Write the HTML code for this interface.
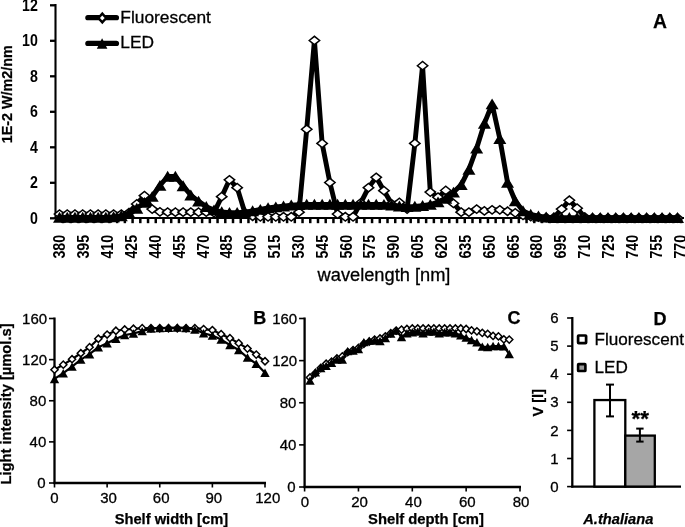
<!DOCTYPE html>
<html lang="en">
<head>
<meta charset="utf-8">
<title>Light spectra and intensity: Fluorescent vs LED</title>
<style>
html,body{margin:0;padding:0;background:#fff;}
body{width:685px;height:527px;overflow:hidden;}
svg{display:block;will-change:transform;font-family:"Liberation Sans", sans-serif;fill:#000;}
</style>
</head>
<body>
<svg width="685" height="527" viewBox="0 0 685 527">
<rect x="0" y="0" width="685" height="527" fill="#fff"/>
<line x1="55.5" y1="4.0" x2="55.5" y2="219.0" stroke="#000" stroke-width="2.1" stroke-linecap="butt"/>
<line x1="54.5" y1="218.0" x2="684" y2="218.0" stroke="#000" stroke-width="1.8" stroke-linecap="butt"/>
<line x1="50.0" y1="218.3" x2="55.5" y2="218.3" stroke="#000" stroke-width="2.3" stroke-linecap="butt"/>
<text transform="translate(37.90 223.70) scale(1 1.1)" x="0" y="0" font-size="14.2" font-weight="bold" text-anchor="end">0</text>
<line x1="50.0" y1="182.8" x2="55.5" y2="182.8" stroke="#000" stroke-width="2.3" stroke-linecap="butt"/>
<text transform="translate(37.90 188.20) scale(1 1.1)" x="0" y="0" font-size="14.2" font-weight="bold" text-anchor="end">2</text>
<line x1="50.0" y1="147.3" x2="55.5" y2="147.3" stroke="#000" stroke-width="2.3" stroke-linecap="butt"/>
<text transform="translate(37.90 152.70) scale(1 1.1)" x="0" y="0" font-size="14.2" font-weight="bold" text-anchor="end">4</text>
<line x1="50.0" y1="111.8" x2="55.5" y2="111.8" stroke="#000" stroke-width="2.3" stroke-linecap="butt"/>
<text transform="translate(37.90 117.20) scale(1 1.1)" x="0" y="0" font-size="14.2" font-weight="bold" text-anchor="end">6</text>
<line x1="50.0" y1="76.3" x2="55.5" y2="76.3" stroke="#000" stroke-width="2.3" stroke-linecap="butt"/>
<text transform="translate(37.90 81.70) scale(1 1.1)" x="0" y="0" font-size="14.2" font-weight="bold" text-anchor="end">8</text>
<line x1="50.0" y1="40.8" x2="55.5" y2="40.8" stroke="#000" stroke-width="2.3" stroke-linecap="butt"/>
<text transform="translate(37.90 46.20) scale(1 1.1)" x="0" y="0" font-size="14.2" font-weight="bold" text-anchor="end">10</text>
<line x1="50.0" y1="5.3" x2="55.5" y2="5.3" stroke="#000" stroke-width="2.3" stroke-linecap="butt"/>
<text transform="translate(37.90 10.70) scale(1 1.1)" x="0" y="0" font-size="14.2" font-weight="bold" text-anchor="end">12</text>
<line x1="63.0625" y1="218.0" x2="63.0625" y2="223.2" stroke="#000" stroke-width="2.5" stroke-linecap="butt"/>
<line x1="70.78750000000001" y1="218.0" x2="70.78750000000001" y2="223.2" stroke="#000" stroke-width="2.5" stroke-linecap="butt"/>
<line x1="78.5125" y1="218.0" x2="78.5125" y2="223.2" stroke="#000" stroke-width="2.5" stroke-linecap="butt"/>
<line x1="86.2375" y1="218.0" x2="86.2375" y2="223.2" stroke="#000" stroke-width="2.5" stroke-linecap="butt"/>
<line x1="93.96249999999999" y1="218.0" x2="93.96249999999999" y2="223.2" stroke="#000" stroke-width="2.5" stroke-linecap="butt"/>
<line x1="101.6875" y1="218.0" x2="101.6875" y2="223.2" stroke="#000" stroke-width="2.5" stroke-linecap="butt"/>
<line x1="109.41250000000001" y1="218.0" x2="109.41250000000001" y2="223.2" stroke="#000" stroke-width="2.5" stroke-linecap="butt"/>
<line x1="117.1375" y1="218.0" x2="117.1375" y2="223.2" stroke="#000" stroke-width="2.5" stroke-linecap="butt"/>
<line x1="124.8625" y1="218.0" x2="124.8625" y2="223.2" stroke="#000" stroke-width="2.5" stroke-linecap="butt"/>
<line x1="132.58749999999998" y1="218.0" x2="132.58749999999998" y2="223.2" stroke="#000" stroke-width="2.5" stroke-linecap="butt"/>
<line x1="140.3125" y1="218.0" x2="140.3125" y2="223.2" stroke="#000" stroke-width="2.5" stroke-linecap="butt"/>
<line x1="148.03749999999997" y1="218.0" x2="148.03749999999997" y2="223.2" stroke="#000" stroke-width="2.5" stroke-linecap="butt"/>
<line x1="155.7625" y1="218.0" x2="155.7625" y2="223.2" stroke="#000" stroke-width="2.5" stroke-linecap="butt"/>
<line x1="163.48749999999998" y1="218.0" x2="163.48749999999998" y2="223.2" stroke="#000" stroke-width="2.5" stroke-linecap="butt"/>
<line x1="171.21249999999998" y1="218.0" x2="171.21249999999998" y2="223.2" stroke="#000" stroke-width="2.5" stroke-linecap="butt"/>
<line x1="178.9375" y1="218.0" x2="178.9375" y2="223.2" stroke="#000" stroke-width="2.5" stroke-linecap="butt"/>
<line x1="186.66249999999997" y1="218.0" x2="186.66249999999997" y2="223.2" stroke="#000" stroke-width="2.5" stroke-linecap="butt"/>
<line x1="194.3875" y1="218.0" x2="194.3875" y2="223.2" stroke="#000" stroke-width="2.5" stroke-linecap="butt"/>
<line x1="202.11249999999998" y1="218.0" x2="202.11249999999998" y2="223.2" stroke="#000" stroke-width="2.5" stroke-linecap="butt"/>
<line x1="209.83749999999998" y1="218.0" x2="209.83749999999998" y2="223.2" stroke="#000" stroke-width="2.5" stroke-linecap="butt"/>
<line x1="217.56249999999997" y1="218.0" x2="217.56249999999997" y2="223.2" stroke="#000" stroke-width="2.5" stroke-linecap="butt"/>
<line x1="225.2875" y1="218.0" x2="225.2875" y2="223.2" stroke="#000" stroke-width="2.5" stroke-linecap="butt"/>
<line x1="233.0125" y1="218.0" x2="233.0125" y2="223.2" stroke="#000" stroke-width="2.5" stroke-linecap="butt"/>
<line x1="240.73749999999998" y1="218.0" x2="240.73749999999998" y2="223.2" stroke="#000" stroke-width="2.5" stroke-linecap="butt"/>
<line x1="248.46249999999998" y1="218.0" x2="248.46249999999998" y2="223.2" stroke="#000" stroke-width="2.5" stroke-linecap="butt"/>
<line x1="256.18749999999994" y1="218.0" x2="256.18749999999994" y2="223.2" stroke="#000" stroke-width="2.5" stroke-linecap="butt"/>
<line x1="263.91249999999997" y1="218.0" x2="263.91249999999997" y2="223.2" stroke="#000" stroke-width="2.5" stroke-linecap="butt"/>
<line x1="271.6375" y1="218.0" x2="271.6375" y2="223.2" stroke="#000" stroke-width="2.5" stroke-linecap="butt"/>
<line x1="279.3625" y1="218.0" x2="279.3625" y2="223.2" stroke="#000" stroke-width="2.5" stroke-linecap="butt"/>
<line x1="287.0875" y1="218.0" x2="287.0875" y2="223.2" stroke="#000" stroke-width="2.5" stroke-linecap="butt"/>
<line x1="294.81249999999994" y1="218.0" x2="294.81249999999994" y2="223.2" stroke="#000" stroke-width="2.5" stroke-linecap="butt"/>
<line x1="302.53749999999997" y1="218.0" x2="302.53749999999997" y2="223.2" stroke="#000" stroke-width="2.5" stroke-linecap="butt"/>
<line x1="310.2625" y1="218.0" x2="310.2625" y2="223.2" stroke="#000" stroke-width="2.5" stroke-linecap="butt"/>
<line x1="317.98749999999995" y1="218.0" x2="317.98749999999995" y2="223.2" stroke="#000" stroke-width="2.5" stroke-linecap="butt"/>
<line x1="325.7125" y1="218.0" x2="325.7125" y2="223.2" stroke="#000" stroke-width="2.5" stroke-linecap="butt"/>
<line x1="333.4375" y1="218.0" x2="333.4375" y2="223.2" stroke="#000" stroke-width="2.5" stroke-linecap="butt"/>
<line x1="341.16249999999997" y1="218.0" x2="341.16249999999997" y2="223.2" stroke="#000" stroke-width="2.5" stroke-linecap="butt"/>
<line x1="348.8875" y1="218.0" x2="348.8875" y2="223.2" stroke="#000" stroke-width="2.5" stroke-linecap="butt"/>
<line x1="356.61249999999995" y1="218.0" x2="356.61249999999995" y2="223.2" stroke="#000" stroke-width="2.5" stroke-linecap="butt"/>
<line x1="364.3375" y1="218.0" x2="364.3375" y2="223.2" stroke="#000" stroke-width="2.5" stroke-linecap="butt"/>
<line x1="372.0625" y1="218.0" x2="372.0625" y2="223.2" stroke="#000" stroke-width="2.5" stroke-linecap="butt"/>
<line x1="379.78749999999997" y1="218.0" x2="379.78749999999997" y2="223.2" stroke="#000" stroke-width="2.5" stroke-linecap="butt"/>
<line x1="387.5125" y1="218.0" x2="387.5125" y2="223.2" stroke="#000" stroke-width="2.5" stroke-linecap="butt"/>
<line x1="395.23749999999995" y1="218.0" x2="395.23749999999995" y2="223.2" stroke="#000" stroke-width="2.5" stroke-linecap="butt"/>
<line x1="402.9625" y1="218.0" x2="402.9625" y2="223.2" stroke="#000" stroke-width="2.5" stroke-linecap="butt"/>
<line x1="410.6875" y1="218.0" x2="410.6875" y2="223.2" stroke="#000" stroke-width="2.5" stroke-linecap="butt"/>
<line x1="418.41249999999997" y1="218.0" x2="418.41249999999997" y2="223.2" stroke="#000" stroke-width="2.5" stroke-linecap="butt"/>
<line x1="426.1375" y1="218.0" x2="426.1375" y2="223.2" stroke="#000" stroke-width="2.5" stroke-linecap="butt"/>
<line x1="433.86249999999995" y1="218.0" x2="433.86249999999995" y2="223.2" stroke="#000" stroke-width="2.5" stroke-linecap="butt"/>
<line x1="441.5875" y1="218.0" x2="441.5875" y2="223.2" stroke="#000" stroke-width="2.5" stroke-linecap="butt"/>
<line x1="449.31249999999994" y1="218.0" x2="449.31249999999994" y2="223.2" stroke="#000" stroke-width="2.5" stroke-linecap="butt"/>
<line x1="457.03749999999997" y1="218.0" x2="457.03749999999997" y2="223.2" stroke="#000" stroke-width="2.5" stroke-linecap="butt"/>
<line x1="464.7625" y1="218.0" x2="464.7625" y2="223.2" stroke="#000" stroke-width="2.5" stroke-linecap="butt"/>
<line x1="472.48749999999995" y1="218.0" x2="472.48749999999995" y2="223.2" stroke="#000" stroke-width="2.5" stroke-linecap="butt"/>
<line x1="480.2125" y1="218.0" x2="480.2125" y2="223.2" stroke="#000" stroke-width="2.5" stroke-linecap="butt"/>
<line x1="487.93749999999994" y1="218.0" x2="487.93749999999994" y2="223.2" stroke="#000" stroke-width="2.5" stroke-linecap="butt"/>
<line x1="495.66249999999997" y1="218.0" x2="495.66249999999997" y2="223.2" stroke="#000" stroke-width="2.5" stroke-linecap="butt"/>
<line x1="503.3875" y1="218.0" x2="503.3875" y2="223.2" stroke="#000" stroke-width="2.5" stroke-linecap="butt"/>
<line x1="511.11249999999995" y1="218.0" x2="511.11249999999995" y2="223.2" stroke="#000" stroke-width="2.5" stroke-linecap="butt"/>
<line x1="518.8375000000001" y1="218.0" x2="518.8375000000001" y2="223.2" stroke="#000" stroke-width="2.5" stroke-linecap="butt"/>
<line x1="526.5625" y1="218.0" x2="526.5625" y2="223.2" stroke="#000" stroke-width="2.5" stroke-linecap="butt"/>
<line x1="534.2875" y1="218.0" x2="534.2875" y2="223.2" stroke="#000" stroke-width="2.5" stroke-linecap="butt"/>
<line x1="542.0125" y1="218.0" x2="542.0125" y2="223.2" stroke="#000" stroke-width="2.5" stroke-linecap="butt"/>
<line x1="549.7375" y1="218.0" x2="549.7375" y2="223.2" stroke="#000" stroke-width="2.5" stroke-linecap="butt"/>
<line x1="557.4625000000001" y1="218.0" x2="557.4625000000001" y2="223.2" stroke="#000" stroke-width="2.5" stroke-linecap="butt"/>
<line x1="565.1875" y1="218.0" x2="565.1875" y2="223.2" stroke="#000" stroke-width="2.5" stroke-linecap="butt"/>
<line x1="572.9125" y1="218.0" x2="572.9125" y2="223.2" stroke="#000" stroke-width="2.5" stroke-linecap="butt"/>
<line x1="580.6375" y1="218.0" x2="580.6375" y2="223.2" stroke="#000" stroke-width="2.5" stroke-linecap="butt"/>
<line x1="588.3625000000001" y1="218.0" x2="588.3625000000001" y2="223.2" stroke="#000" stroke-width="2.5" stroke-linecap="butt"/>
<line x1="596.0875" y1="218.0" x2="596.0875" y2="223.2" stroke="#000" stroke-width="2.5" stroke-linecap="butt"/>
<line x1="603.8125" y1="218.0" x2="603.8125" y2="223.2" stroke="#000" stroke-width="2.5" stroke-linecap="butt"/>
<line x1="611.5375" y1="218.0" x2="611.5375" y2="223.2" stroke="#000" stroke-width="2.5" stroke-linecap="butt"/>
<line x1="619.2625" y1="218.0" x2="619.2625" y2="223.2" stroke="#000" stroke-width="2.5" stroke-linecap="butt"/>
<line x1="626.9875000000001" y1="218.0" x2="626.9875000000001" y2="223.2" stroke="#000" stroke-width="2.5" stroke-linecap="butt"/>
<line x1="634.7125" y1="218.0" x2="634.7125" y2="223.2" stroke="#000" stroke-width="2.5" stroke-linecap="butt"/>
<line x1="642.4375" y1="218.0" x2="642.4375" y2="223.2" stroke="#000" stroke-width="2.5" stroke-linecap="butt"/>
<line x1="650.1625" y1="218.0" x2="650.1625" y2="223.2" stroke="#000" stroke-width="2.5" stroke-linecap="butt"/>
<line x1="657.8875" y1="218.0" x2="657.8875" y2="223.2" stroke="#000" stroke-width="2.5" stroke-linecap="butt"/>
<line x1="665.6125000000001" y1="218.0" x2="665.6125000000001" y2="223.2" stroke="#000" stroke-width="2.5" stroke-linecap="butt"/>
<line x1="673.3375" y1="218.0" x2="673.3375" y2="223.2" stroke="#000" stroke-width="2.5" stroke-linecap="butt"/>
<line x1="681.0625" y1="218.0" x2="681.0625" y2="223.2" stroke="#000" stroke-width="2.5" stroke-linecap="butt"/>
<text transform="translate(65.40 246.7) rotate(-90) scale(1 1.14)" x="0" y="0" font-size="14.3" font-weight="bold" text-anchor="middle">380</text>
<text transform="translate(89.25 246.7) rotate(-90) scale(1 1.14)" x="0" y="0" font-size="14.3" font-weight="bold" text-anchor="middle">395</text>
<text transform="translate(113.10 246.7) rotate(-90) scale(1 1.14)" x="0" y="0" font-size="14.3" font-weight="bold" text-anchor="middle">410</text>
<text transform="translate(136.95 246.7) rotate(-90) scale(1 1.14)" x="0" y="0" font-size="14.3" font-weight="bold" text-anchor="middle">425</text>
<text transform="translate(160.80 246.7) rotate(-90) scale(1 1.14)" x="0" y="0" font-size="14.3" font-weight="bold" text-anchor="middle">440</text>
<text transform="translate(184.65 246.7) rotate(-90) scale(1 1.14)" x="0" y="0" font-size="14.3" font-weight="bold" text-anchor="middle">455</text>
<text transform="translate(208.50 246.7) rotate(-90) scale(1 1.14)" x="0" y="0" font-size="14.3" font-weight="bold" text-anchor="middle">470</text>
<text transform="translate(232.35 246.7) rotate(-90) scale(1 1.14)" x="0" y="0" font-size="14.3" font-weight="bold" text-anchor="middle">485</text>
<text transform="translate(256.20 246.7) rotate(-90) scale(1 1.14)" x="0" y="0" font-size="14.3" font-weight="bold" text-anchor="middle">500</text>
<text transform="translate(280.05 246.7) rotate(-90) scale(1 1.14)" x="0" y="0" font-size="14.3" font-weight="bold" text-anchor="middle">515</text>
<text transform="translate(303.90 246.7) rotate(-90) scale(1 1.14)" x="0" y="0" font-size="14.3" font-weight="bold" text-anchor="middle">530</text>
<text transform="translate(327.75 246.7) rotate(-90) scale(1 1.14)" x="0" y="0" font-size="14.3" font-weight="bold" text-anchor="middle">545</text>
<text transform="translate(351.60 246.7) rotate(-90) scale(1 1.14)" x="0" y="0" font-size="14.3" font-weight="bold" text-anchor="middle">560</text>
<text transform="translate(375.45 246.7) rotate(-90) scale(1 1.14)" x="0" y="0" font-size="14.3" font-weight="bold" text-anchor="middle">575</text>
<text transform="translate(399.30 246.7) rotate(-90) scale(1 1.14)" x="0" y="0" font-size="14.3" font-weight="bold" text-anchor="middle">590</text>
<text transform="translate(423.15 246.7) rotate(-90) scale(1 1.14)" x="0" y="0" font-size="14.3" font-weight="bold" text-anchor="middle">605</text>
<text transform="translate(447.00 246.7) rotate(-90) scale(1 1.14)" x="0" y="0" font-size="14.3" font-weight="bold" text-anchor="middle">620</text>
<text transform="translate(470.85 246.7) rotate(-90) scale(1 1.14)" x="0" y="0" font-size="14.3" font-weight="bold" text-anchor="middle">635</text>
<text transform="translate(494.70 246.7) rotate(-90) scale(1 1.14)" x="0" y="0" font-size="14.3" font-weight="bold" text-anchor="middle">650</text>
<text transform="translate(518.55 246.7) rotate(-90) scale(1 1.14)" x="0" y="0" font-size="14.3" font-weight="bold" text-anchor="middle">665</text>
<text transform="translate(542.40 246.7) rotate(-90) scale(1 1.14)" x="0" y="0" font-size="14.3" font-weight="bold" text-anchor="middle">680</text>
<text transform="translate(566.25 246.7) rotate(-90) scale(1 1.14)" x="0" y="0" font-size="14.3" font-weight="bold" text-anchor="middle">695</text>
<text transform="translate(590.10 246.7) rotate(-90) scale(1 1.14)" x="0" y="0" font-size="14.3" font-weight="bold" text-anchor="middle">710</text>
<text transform="translate(613.95 246.7) rotate(-90) scale(1 1.14)" x="0" y="0" font-size="14.3" font-weight="bold" text-anchor="middle">725</text>
<text transform="translate(637.80 246.7) rotate(-90) scale(1 1.14)" x="0" y="0" font-size="14.3" font-weight="bold" text-anchor="middle">740</text>
<text transform="translate(661.65 246.7) rotate(-90) scale(1 1.14)" x="0" y="0" font-size="14.3" font-weight="bold" text-anchor="middle">755</text>
<text transform="translate(685.50 246.7) rotate(-90) scale(1 1.14)" x="0" y="0" font-size="14.3" font-weight="bold" text-anchor="middle">770</text>
<path d="M59.50 214.09L67.22 214.09L74.95 214.09L82.67 214.09L90.40 214.09L98.12 214.09L105.85 214.09L113.57 214.09L121.30 214.09L129.02 212.68L136.75 203.98L144.47 195.63L152.20 209.12L159.93 211.79L167.65 212.14L175.38 212.14L183.10 212.14L190.82 212.14L198.55 212.14L206.28 212.14L214.00 212.68L221.72 196.70L229.45 179.84L237.17 187.65L244.90 212.68L252.62 216.22L260.35 216.76L268.07 216.76L275.80 216.76L283.52 216.76L291.25 216.76L298.98 212.14L306.70 129.25L314.42 40.50L322.15 143.45L329.88 182.50L337.60 214.09L345.32 216.76L353.05 216.76L360.77 202.91L368.50 187.65L376.22 177.35L383.95 190.66L391.68 203.80L399.40 202.38L407.12 209.12L414.85 143.45L422.57 65.71L430.30 192.09L438.02 197.23L445.75 190.49L453.47 203.44L461.20 212.14L468.92 212.14L476.65 209.12L484.38 210.90L492.10 209.84L499.82 209.84L507.55 211.25L515.27 212.85L523.00 215.34L530.72 216.58L538.45 217.11L546.17 217.47L553.90 217.47L561.62 209.12L569.35 200.25L577.07 208.24L584.80 217.11L592.52 218.00L600.25 218.00L607.98 218.00L615.70 218.00L623.42 218.00L631.15 218.00L638.88 218.00L646.60 218.00L654.32 218.00L662.05 218.00L669.77 218.00L677.50 218.00" fill="none" stroke="#000" stroke-width="4.9" stroke-linejoin="round" stroke-linecap="round"/>
<path d="M54.30 214.09L59.50 209.90L64.70 214.09L59.50 218.29Z" fill="#fff" stroke="#000" stroke-width="1.5" stroke-linejoin="miter"/>
<path d="M62.02 214.09L67.22 209.90L72.42 214.09L67.22 218.29Z" fill="#fff" stroke="#000" stroke-width="1.5" stroke-linejoin="miter"/>
<path d="M69.75 214.09L74.95 209.90L80.15 214.09L74.95 218.29Z" fill="#fff" stroke="#000" stroke-width="1.5" stroke-linejoin="miter"/>
<path d="M77.47 214.09L82.67 209.90L87.88 214.09L82.67 218.29Z" fill="#fff" stroke="#000" stroke-width="1.5" stroke-linejoin="miter"/>
<path d="M85.20 214.09L90.40 209.90L95.60 214.09L90.40 218.29Z" fill="#fff" stroke="#000" stroke-width="1.5" stroke-linejoin="miter"/>
<path d="M92.92 214.09L98.12 209.90L103.33 214.09L98.12 218.29Z" fill="#fff" stroke="#000" stroke-width="1.5" stroke-linejoin="miter"/>
<path d="M100.65 214.09L105.85 209.90L111.05 214.09L105.85 218.29Z" fill="#fff" stroke="#000" stroke-width="1.5" stroke-linejoin="miter"/>
<path d="M108.37 214.09L113.57 209.90L118.77 214.09L113.57 218.29Z" fill="#fff" stroke="#000" stroke-width="1.5" stroke-linejoin="miter"/>
<path d="M116.10 214.09L121.30 209.90L126.50 214.09L121.30 218.29Z" fill="#fff" stroke="#000" stroke-width="1.5" stroke-linejoin="miter"/>
<path d="M123.82 212.68L129.02 208.48L134.22 212.68L129.02 216.88Z" fill="#fff" stroke="#000" stroke-width="1.5" stroke-linejoin="miter"/>
<path d="M131.55 203.98L136.75 199.78L141.95 203.98L136.75 208.18Z" fill="#fff" stroke="#000" stroke-width="1.5" stroke-linejoin="miter"/>
<path d="M139.28 195.63L144.47 191.44L149.67 195.63L144.47 199.83Z" fill="#fff" stroke="#000" stroke-width="1.5" stroke-linejoin="miter"/>
<path d="M147.00 209.12L152.20 204.93L157.40 209.12L152.20 213.32Z" fill="#fff" stroke="#000" stroke-width="1.5" stroke-linejoin="miter"/>
<path d="M154.73 211.79L159.93 207.59L165.12 211.79L159.93 215.99Z" fill="#fff" stroke="#000" stroke-width="1.5" stroke-linejoin="miter"/>
<path d="M162.45 212.14L167.65 207.94L172.85 212.14L167.65 216.34Z" fill="#fff" stroke="#000" stroke-width="1.5" stroke-linejoin="miter"/>
<path d="M170.18 212.14L175.38 207.94L180.57 212.14L175.38 216.34Z" fill="#fff" stroke="#000" stroke-width="1.5" stroke-linejoin="miter"/>
<path d="M177.90 212.14L183.10 207.94L188.30 212.14L183.10 216.34Z" fill="#fff" stroke="#000" stroke-width="1.5" stroke-linejoin="miter"/>
<path d="M185.62 212.14L190.82 207.94L196.02 212.14L190.82 216.34Z" fill="#fff" stroke="#000" stroke-width="1.5" stroke-linejoin="miter"/>
<path d="M193.35 212.14L198.55 207.94L203.75 212.14L198.55 216.34Z" fill="#fff" stroke="#000" stroke-width="1.5" stroke-linejoin="miter"/>
<path d="M201.08 212.14L206.28 207.94L211.47 212.14L206.28 216.34Z" fill="#fff" stroke="#000" stroke-width="1.5" stroke-linejoin="miter"/>
<path d="M208.80 212.68L214.00 208.48L219.20 212.68L214.00 216.88Z" fill="#fff" stroke="#000" stroke-width="1.5" stroke-linejoin="miter"/>
<path d="M216.53 196.70L221.72 192.50L226.92 196.70L221.72 200.90Z" fill="#fff" stroke="#000" stroke-width="1.5" stroke-linejoin="miter"/>
<path d="M224.25 179.84L229.45 175.64L234.65 179.84L229.45 184.04Z" fill="#fff" stroke="#000" stroke-width="1.5" stroke-linejoin="miter"/>
<path d="M231.97 187.65L237.17 183.45L242.37 187.65L237.17 191.85Z" fill="#fff" stroke="#000" stroke-width="1.5" stroke-linejoin="miter"/>
<path d="M239.70 212.68L244.90 208.48L250.10 212.68L244.90 216.88Z" fill="#fff" stroke="#000" stroke-width="1.5" stroke-linejoin="miter"/>
<path d="M247.43 216.22L252.62 212.03L257.82 216.22L252.62 220.42Z" fill="#fff" stroke="#000" stroke-width="1.5" stroke-linejoin="miter"/>
<path d="M255.15 216.76L260.35 212.56L265.55 216.76L260.35 220.96Z" fill="#fff" stroke="#000" stroke-width="1.5" stroke-linejoin="miter"/>
<path d="M262.88 216.76L268.07 212.56L273.27 216.76L268.07 220.96Z" fill="#fff" stroke="#000" stroke-width="1.5" stroke-linejoin="miter"/>
<path d="M270.60 216.76L275.80 212.56L281.00 216.76L275.80 220.96Z" fill="#fff" stroke="#000" stroke-width="1.5" stroke-linejoin="miter"/>
<path d="M278.32 216.76L283.52 212.56L288.72 216.76L283.52 220.96Z" fill="#fff" stroke="#000" stroke-width="1.5" stroke-linejoin="miter"/>
<path d="M286.05 216.76L291.25 212.56L296.45 216.76L291.25 220.96Z" fill="#fff" stroke="#000" stroke-width="1.5" stroke-linejoin="miter"/>
<path d="M293.78 212.14L298.98 207.94L304.18 212.14L298.98 216.34Z" fill="#fff" stroke="#000" stroke-width="1.5" stroke-linejoin="miter"/>
<path d="M301.50 129.25L306.70 125.05L311.90 129.25L306.70 133.45Z" fill="#fff" stroke="#000" stroke-width="1.5" stroke-linejoin="miter"/>
<path d="M309.22 40.50L314.42 36.30L319.62 40.50L314.42 44.70Z" fill="#fff" stroke="#000" stroke-width="1.5" stroke-linejoin="miter"/>
<path d="M316.95 143.45L322.15 139.25L327.35 143.45L322.15 147.65Z" fill="#fff" stroke="#000" stroke-width="1.5" stroke-linejoin="miter"/>
<path d="M324.68 182.50L329.88 178.30L335.07 182.50L329.88 186.70Z" fill="#fff" stroke="#000" stroke-width="1.5" stroke-linejoin="miter"/>
<path d="M332.40 214.09L337.60 209.90L342.80 214.09L337.60 218.29Z" fill="#fff" stroke="#000" stroke-width="1.5" stroke-linejoin="miter"/>
<path d="M340.12 216.76L345.32 212.56L350.52 216.76L345.32 220.96Z" fill="#fff" stroke="#000" stroke-width="1.5" stroke-linejoin="miter"/>
<path d="M347.85 216.76L353.05 212.56L358.25 216.76L353.05 220.96Z" fill="#fff" stroke="#000" stroke-width="1.5" stroke-linejoin="miter"/>
<path d="M355.57 202.91L360.77 198.71L365.97 202.91L360.77 207.11Z" fill="#fff" stroke="#000" stroke-width="1.5" stroke-linejoin="miter"/>
<path d="M363.30 187.65L368.50 183.45L373.70 187.65L368.50 191.85Z" fill="#fff" stroke="#000" stroke-width="1.5" stroke-linejoin="miter"/>
<path d="M371.02 177.35L376.22 173.15L381.42 177.35L376.22 181.55Z" fill="#fff" stroke="#000" stroke-width="1.5" stroke-linejoin="miter"/>
<path d="M378.75 190.66L383.95 186.47L389.15 190.66L383.95 194.86Z" fill="#fff" stroke="#000" stroke-width="1.5" stroke-linejoin="miter"/>
<path d="M386.48 203.80L391.68 199.60L396.88 203.80L391.68 208.00Z" fill="#fff" stroke="#000" stroke-width="1.5" stroke-linejoin="miter"/>
<path d="M394.20 202.38L399.40 198.18L404.60 202.38L399.40 206.58Z" fill="#fff" stroke="#000" stroke-width="1.5" stroke-linejoin="miter"/>
<path d="M401.93 209.12L407.12 204.93L412.32 209.12L407.12 213.32Z" fill="#fff" stroke="#000" stroke-width="1.5" stroke-linejoin="miter"/>
<path d="M409.65 143.45L414.85 139.25L420.05 143.45L414.85 147.65Z" fill="#fff" stroke="#000" stroke-width="1.5" stroke-linejoin="miter"/>
<path d="M417.38 65.71L422.57 61.51L427.77 65.71L422.57 69.91Z" fill="#fff" stroke="#000" stroke-width="1.5" stroke-linejoin="miter"/>
<path d="M425.10 192.09L430.30 187.89L435.50 192.09L430.30 196.28Z" fill="#fff" stroke="#000" stroke-width="1.5" stroke-linejoin="miter"/>
<path d="M432.82 197.23L438.02 193.03L443.22 197.23L438.02 201.43Z" fill="#fff" stroke="#000" stroke-width="1.5" stroke-linejoin="miter"/>
<path d="M440.55 190.49L445.75 186.29L450.95 190.49L445.75 194.69Z" fill="#fff" stroke="#000" stroke-width="1.5" stroke-linejoin="miter"/>
<path d="M448.27 203.44L453.47 199.25L458.67 203.44L453.47 207.64Z" fill="#fff" stroke="#000" stroke-width="1.5" stroke-linejoin="miter"/>
<path d="M456.00 212.14L461.20 207.94L466.40 212.14L461.20 216.34Z" fill="#fff" stroke="#000" stroke-width="1.5" stroke-linejoin="miter"/>
<path d="M463.72 212.14L468.92 207.94L474.12 212.14L468.92 216.34Z" fill="#fff" stroke="#000" stroke-width="1.5" stroke-linejoin="miter"/>
<path d="M471.45 209.12L476.65 204.93L481.85 209.12L476.65 213.32Z" fill="#fff" stroke="#000" stroke-width="1.5" stroke-linejoin="miter"/>
<path d="M479.18 210.90L484.38 206.70L489.57 210.90L484.38 215.10Z" fill="#fff" stroke="#000" stroke-width="1.5" stroke-linejoin="miter"/>
<path d="M486.90 209.84L492.10 205.64L497.30 209.84L492.10 214.03Z" fill="#fff" stroke="#000" stroke-width="1.5" stroke-linejoin="miter"/>
<path d="M494.62 209.84L499.82 205.64L505.02 209.84L499.82 214.03Z" fill="#fff" stroke="#000" stroke-width="1.5" stroke-linejoin="miter"/>
<path d="M502.35 211.25L507.55 207.06L512.75 211.25L507.55 215.45Z" fill="#fff" stroke="#000" stroke-width="1.5" stroke-linejoin="miter"/>
<path d="M510.07 212.85L515.27 208.65L520.48 212.85L515.27 217.05Z" fill="#fff" stroke="#000" stroke-width="1.5" stroke-linejoin="miter"/>
<path d="M517.80 215.34L523.00 211.14L528.20 215.34L523.00 219.54Z" fill="#fff" stroke="#000" stroke-width="1.5" stroke-linejoin="miter"/>
<path d="M525.52 216.58L530.72 212.38L535.92 216.58L530.72 220.78Z" fill="#fff" stroke="#000" stroke-width="1.5" stroke-linejoin="miter"/>
<path d="M533.25 217.11L538.45 212.91L543.65 217.11L538.45 221.31Z" fill="#fff" stroke="#000" stroke-width="1.5" stroke-linejoin="miter"/>
<path d="M540.97 217.47L546.17 213.27L551.38 217.47L546.17 221.67Z" fill="#fff" stroke="#000" stroke-width="1.5" stroke-linejoin="miter"/>
<path d="M548.70 217.47L553.90 213.27L559.10 217.47L553.90 221.67Z" fill="#fff" stroke="#000" stroke-width="1.5" stroke-linejoin="miter"/>
<path d="M556.42 209.12L561.62 204.93L566.83 209.12L561.62 213.32Z" fill="#fff" stroke="#000" stroke-width="1.5" stroke-linejoin="miter"/>
<path d="M564.15 200.25L569.35 196.05L574.55 200.25L569.35 204.45Z" fill="#fff" stroke="#000" stroke-width="1.5" stroke-linejoin="miter"/>
<path d="M571.87 208.24L577.07 204.04L582.27 208.24L577.07 212.44Z" fill="#fff" stroke="#000" stroke-width="1.5" stroke-linejoin="miter"/>
<path d="M579.60 217.11L584.80 212.91L590.00 217.11L584.80 221.31Z" fill="#fff" stroke="#000" stroke-width="1.5" stroke-linejoin="miter"/>
<path d="M587.32 218.00L592.52 213.80L597.73 218.00L592.52 222.20Z" fill="#fff" stroke="#000" stroke-width="1.5" stroke-linejoin="miter"/>
<path d="M595.05 218.00L600.25 213.80L605.45 218.00L600.25 222.20Z" fill="#fff" stroke="#000" stroke-width="1.5" stroke-linejoin="miter"/>
<path d="M602.77 218.00L607.98 213.80L613.18 218.00L607.98 222.20Z" fill="#fff" stroke="#000" stroke-width="1.5" stroke-linejoin="miter"/>
<path d="M610.50 218.00L615.70 213.80L620.90 218.00L615.70 222.20Z" fill="#fff" stroke="#000" stroke-width="1.5" stroke-linejoin="miter"/>
<path d="M618.22 218.00L623.42 213.80L628.62 218.00L623.42 222.20Z" fill="#fff" stroke="#000" stroke-width="1.5" stroke-linejoin="miter"/>
<path d="M625.95 218.00L631.15 213.80L636.35 218.00L631.15 222.20Z" fill="#fff" stroke="#000" stroke-width="1.5" stroke-linejoin="miter"/>
<path d="M633.67 218.00L638.88 213.80L644.08 218.00L638.88 222.20Z" fill="#fff" stroke="#000" stroke-width="1.5" stroke-linejoin="miter"/>
<path d="M641.40 218.00L646.60 213.80L651.80 218.00L646.60 222.20Z" fill="#fff" stroke="#000" stroke-width="1.5" stroke-linejoin="miter"/>
<path d="M649.12 218.00L654.32 213.80L659.52 218.00L654.32 222.20Z" fill="#fff" stroke="#000" stroke-width="1.5" stroke-linejoin="miter"/>
<path d="M656.85 218.00L662.05 213.80L667.25 218.00L662.05 222.20Z" fill="#fff" stroke="#000" stroke-width="1.5" stroke-linejoin="miter"/>
<path d="M664.57 218.00L669.77 213.80L674.98 218.00L669.77 222.20Z" fill="#fff" stroke="#000" stroke-width="1.5" stroke-linejoin="miter"/>
<path d="M672.30 218.00L677.50 213.80L682.70 218.00L677.50 222.20Z" fill="#fff" stroke="#000" stroke-width="1.5" stroke-linejoin="miter"/>
<path d="M59.50 217.47L67.22 217.47L74.95 217.47L82.67 217.47L90.40 217.47L98.12 217.47L105.85 217.47L113.57 216.94L121.30 215.87L129.02 213.03L136.75 208.41L144.47 202.56L152.20 196.52L159.93 185.52L167.65 176.47L175.38 176.47L183.10 185.87L190.82 195.10L198.55 201.31L206.28 206.64L214.00 210.01L221.72 211.97L229.45 212.68L237.17 212.68L244.90 212.14L252.62 210.90L260.35 209.48L268.07 207.88L275.80 207.00L283.52 206.11L291.25 205.22L298.98 204.69L306.70 204.33L314.42 204.33L322.15 204.33L329.88 204.33L337.60 204.33L345.32 204.33L353.05 204.33L360.77 204.33L368.50 204.33L376.22 204.33L383.95 204.51L391.68 205.22L399.40 206.11L407.12 206.64L414.85 206.46L422.57 205.57L430.30 204.51L438.02 202.03L445.75 198.47L453.47 192.26L461.20 184.81L468.92 169.37L476.65 148.24L484.38 123.39L492.10 104.05L499.82 138.66L507.55 182.50L515.27 200.96L523.00 210.90L530.72 214.45L538.45 216.22L546.17 217.11L553.90 217.65L561.62 217.65L569.35 217.65L577.07 217.65L584.80 217.65L592.52 217.65L600.25 217.65L607.98 217.65L615.70 217.65L623.42 217.65L631.15 217.65L638.88 217.65L646.60 217.65L654.32 217.65L662.05 217.65L669.77 217.65L677.50 217.65" fill="none" stroke="#000" stroke-width="4.9" stroke-linejoin="round" stroke-linecap="round"/>
<path d="M53.00 222.77L59.50 211.87L66.00 222.77Z" fill="#000"/>
<path d="M60.72 222.77L67.22 211.87L73.72 222.77Z" fill="#000"/>
<path d="M68.45 222.77L74.95 211.87L81.45 222.77Z" fill="#000"/>
<path d="M76.17 222.77L82.67 211.87L89.17 222.77Z" fill="#000"/>
<path d="M83.90 222.77L90.40 211.87L96.90 222.77Z" fill="#000"/>
<path d="M91.62 222.77L98.12 211.87L104.62 222.77Z" fill="#000"/>
<path d="M99.35 222.77L105.85 211.87L112.35 222.77Z" fill="#000"/>
<path d="M107.07 222.24L113.57 211.34L120.07 222.24Z" fill="#000"/>
<path d="M114.80 221.17L121.30 210.27L127.80 221.17Z" fill="#000"/>
<path d="M122.52 218.33L129.02 207.43L135.52 218.33Z" fill="#000"/>
<path d="M130.25 213.72L136.75 202.81L143.25 213.72Z" fill="#000"/>
<path d="M137.97 207.86L144.47 196.96L150.97 207.86Z" fill="#000"/>
<path d="M145.70 201.82L152.20 190.92L158.70 201.82Z" fill="#000"/>
<path d="M153.43 190.82L159.93 179.92L166.43 190.82Z" fill="#000"/>
<path d="M161.15 181.77L167.65 170.87L174.15 181.77Z" fill="#000"/>
<path d="M168.88 181.77L175.38 170.87L181.88 181.77Z" fill="#000"/>
<path d="M176.60 191.17L183.10 180.27L189.60 191.17Z" fill="#000"/>
<path d="M184.32 200.40L190.82 189.50L197.32 200.40Z" fill="#000"/>
<path d="M192.05 206.62L198.55 195.72L205.05 206.62Z" fill="#000"/>
<path d="M199.78 211.94L206.28 201.04L212.78 211.94Z" fill="#000"/>
<path d="M207.50 215.31L214.00 204.41L220.50 215.31Z" fill="#000"/>
<path d="M215.22 217.27L221.72 206.37L228.22 217.27Z" fill="#000"/>
<path d="M222.95 217.98L229.45 207.08L235.95 217.98Z" fill="#000"/>
<path d="M230.67 217.98L237.17 207.08L243.67 217.98Z" fill="#000"/>
<path d="M238.40 217.44L244.90 206.54L251.40 217.44Z" fill="#000"/>
<path d="M246.12 216.20L252.62 205.30L259.12 216.20Z" fill="#000"/>
<path d="M253.85 214.78L260.35 203.88L266.85 214.78Z" fill="#000"/>
<path d="M261.57 213.18L268.07 202.28L274.57 213.18Z" fill="#000"/>
<path d="M269.30 212.30L275.80 201.40L282.30 212.30Z" fill="#000"/>
<path d="M277.02 211.41L283.52 200.51L290.02 211.41Z" fill="#000"/>
<path d="M284.75 210.52L291.25 199.62L297.75 210.52Z" fill="#000"/>
<path d="M292.48 209.99L298.98 199.09L305.48 209.99Z" fill="#000"/>
<path d="M300.20 209.63L306.70 198.73L313.20 209.63Z" fill="#000"/>
<path d="M307.92 209.63L314.42 198.73L320.92 209.63Z" fill="#000"/>
<path d="M315.65 209.63L322.15 198.73L328.65 209.63Z" fill="#000"/>
<path d="M323.38 209.63L329.88 198.73L336.38 209.63Z" fill="#000"/>
<path d="M331.10 209.63L337.60 198.73L344.10 209.63Z" fill="#000"/>
<path d="M338.82 209.63L345.32 198.73L351.82 209.63Z" fill="#000"/>
<path d="M346.55 209.63L353.05 198.73L359.55 209.63Z" fill="#000"/>
<path d="M354.27 209.63L360.77 198.73L367.27 209.63Z" fill="#000"/>
<path d="M362.00 209.63L368.50 198.73L375.00 209.63Z" fill="#000"/>
<path d="M369.72 209.63L376.22 198.73L382.72 209.63Z" fill="#000"/>
<path d="M377.45 209.81L383.95 198.91L390.45 209.81Z" fill="#000"/>
<path d="M385.18 210.52L391.68 199.62L398.18 210.52Z" fill="#000"/>
<path d="M392.90 211.41L399.40 200.51L405.90 211.41Z" fill="#000"/>
<path d="M400.62 211.94L407.12 201.04L413.62 211.94Z" fill="#000"/>
<path d="M408.35 211.76L414.85 200.86L421.35 211.76Z" fill="#000"/>
<path d="M416.07 210.88L422.57 199.97L429.07 210.88Z" fill="#000"/>
<path d="M423.80 209.81L430.30 198.91L436.80 209.81Z" fill="#000"/>
<path d="M431.52 207.33L438.02 196.43L444.52 207.33Z" fill="#000"/>
<path d="M439.25 203.78L445.75 192.88L452.25 203.78Z" fill="#000"/>
<path d="M446.97 197.56L453.47 186.66L459.97 197.56Z" fill="#000"/>
<path d="M454.70 190.11L461.20 179.21L467.70 190.11Z" fill="#000"/>
<path d="M462.42 174.67L468.92 163.77L475.42 174.67Z" fill="#000"/>
<path d="M470.15 153.54L476.65 142.64L483.15 153.54Z" fill="#000"/>
<path d="M477.88 128.69L484.38 117.79L490.88 128.69Z" fill="#000"/>
<path d="M485.60 109.34L492.10 98.45L498.60 109.34Z" fill="#000"/>
<path d="M493.32 143.96L499.82 133.06L506.32 143.96Z" fill="#000"/>
<path d="M501.05 187.80L507.55 176.90L514.05 187.80Z" fill="#000"/>
<path d="M508.77 206.26L515.27 195.36L521.77 206.26Z" fill="#000"/>
<path d="M516.50 216.20L523.00 205.30L529.50 216.20Z" fill="#000"/>
<path d="M524.22 219.75L530.72 208.85L537.22 219.75Z" fill="#000"/>
<path d="M531.95 221.53L538.45 210.62L544.95 221.53Z" fill="#000"/>
<path d="M539.67 222.41L546.17 211.51L552.67 222.41Z" fill="#000"/>
<path d="M547.40 222.95L553.90 212.05L560.40 222.95Z" fill="#000"/>
<path d="M555.12 222.95L561.62 212.05L568.12 222.95Z" fill="#000"/>
<path d="M562.85 222.95L569.35 212.05L575.85 222.95Z" fill="#000"/>
<path d="M570.57 222.95L577.07 212.05L583.57 222.95Z" fill="#000"/>
<path d="M578.30 222.95L584.80 212.05L591.30 222.95Z" fill="#000"/>
<path d="M586.02 222.95L592.52 212.05L599.02 222.95Z" fill="#000"/>
<path d="M593.75 222.95L600.25 212.05L606.75 222.95Z" fill="#000"/>
<path d="M601.48 222.95L607.98 212.05L614.48 222.95Z" fill="#000"/>
<path d="M609.20 222.95L615.70 212.05L622.20 222.95Z" fill="#000"/>
<path d="M616.92 222.95L623.42 212.05L629.92 222.95Z" fill="#000"/>
<path d="M624.65 222.95L631.15 212.05L637.65 222.95Z" fill="#000"/>
<path d="M632.38 222.95L638.88 212.05L645.38 222.95Z" fill="#000"/>
<path d="M640.10 222.95L646.60 212.05L653.10 222.95Z" fill="#000"/>
<path d="M647.82 222.95L654.32 212.05L660.82 222.95Z" fill="#000"/>
<path d="M655.55 222.95L662.05 212.05L668.55 222.95Z" fill="#000"/>
<path d="M663.27 222.95L669.77 212.05L676.27 222.95Z" fill="#000"/>
<path d="M671.00 222.95L677.50 212.05L684.00 222.95Z" fill="#000"/>
<line x1="87.9" y1="17.7" x2="116.4" y2="17.7" stroke="#000" stroke-width="5.3" stroke-linecap="round"/>
<path d="M98.40 18.00L102.30 13.60L106.20 18.00L102.30 22.40Z" fill="#fff" stroke="#000" stroke-width="2.4" stroke-linejoin="miter"/>
<text x="120.3" y="23.0" font-size="17.35" font-weight="normal" text-anchor="start" stroke="#000" stroke-width="0.3">Fluorescent</text>
<line x1="87.9" y1="43.4" x2="116.4" y2="43.4" stroke="#000" stroke-width="5.3" stroke-linecap="round"/>
<path d="M96.80 48.70L102.10 38.20L107.40 48.70Z" fill="#000"/>
<text x="120.3" y="48.0" font-size="17.35" font-weight="normal" text-anchor="start" stroke="#000" stroke-width="0.3">LED</text>
<text x="660" y="28.4" font-size="19.3" font-weight="bold" text-anchor="middle" stroke="#000" stroke-width="0.25">A</text>
<text x="384" y="281.0" font-size="18.25" font-weight="normal" text-anchor="middle" stroke="#000" stroke-width="0.3">wavelength [nm]</text>
<text x="11.6" y="94.3" font-size="14.35" font-weight="bold" text-anchor="middle" transform="rotate(-90 11.6 94.3)" stroke="#000" stroke-width="0.25">1E-2 W/m2/nm</text>
<line x1="54.5" y1="317.5" x2="54.5" y2="484.0" stroke="#000" stroke-width="2.3" stroke-linecap="butt"/>
<line x1="53.5" y1="483.0" x2="266" y2="483.0" stroke="#000" stroke-width="2.3" stroke-linecap="butt"/>
<line x1="49.0" y1="483.0" x2="54.5" y2="483.0" stroke="#000" stroke-width="1.6" stroke-linecap="butt"/>
<text x="45.5" y="488.1" font-size="15.0" font-weight="normal" text-anchor="end" stroke="#000" stroke-width="0.3">0</text>
<line x1="49.0" y1="441.875" x2="54.5" y2="441.875" stroke="#000" stroke-width="1.6" stroke-linecap="butt"/>
<text x="46.3" y="446.975" font-size="15.0" font-weight="normal" text-anchor="end" stroke="#000" stroke-width="0.3">40</text>
<line x1="49.0" y1="400.75" x2="54.5" y2="400.75" stroke="#000" stroke-width="1.6" stroke-linecap="butt"/>
<text x="46.3" y="405.85" font-size="15.0" font-weight="normal" text-anchor="end" stroke="#000" stroke-width="0.3">80</text>
<line x1="49.0" y1="359.625" x2="54.5" y2="359.625" stroke="#000" stroke-width="1.6" stroke-linecap="butt"/>
<text x="47.1" y="364.725" font-size="15.0" font-weight="normal" text-anchor="end" stroke="#000" stroke-width="0.3">120</text>
<line x1="49.0" y1="318.5" x2="54.5" y2="318.5" stroke="#000" stroke-width="1.6" stroke-linecap="butt"/>
<text x="47.1" y="323.6" font-size="15.0" font-weight="normal" text-anchor="end" stroke="#000" stroke-width="0.3">160</text>
<line x1="54.5" y1="483.0" x2="54.5" y2="487.5" stroke="#000" stroke-width="1.6" stroke-linecap="butt"/>
<text x="54.5" y="503.0" font-size="15.0" font-weight="normal" text-anchor="middle" stroke="#000" stroke-width="0.3">0</text>
<line x1="107.125" y1="483.0" x2="107.125" y2="487.5" stroke="#000" stroke-width="1.6" stroke-linecap="butt"/>
<text x="108.525" y="503.0" font-size="15.0" font-weight="normal" text-anchor="middle" stroke="#000" stroke-width="0.3">30</text>
<line x1="159.75" y1="483.0" x2="159.75" y2="487.5" stroke="#000" stroke-width="1.6" stroke-linecap="butt"/>
<text x="161.15" y="503.0" font-size="15.0" font-weight="normal" text-anchor="middle" stroke="#000" stroke-width="0.3">60</text>
<line x1="212.375" y1="483.0" x2="212.375" y2="487.5" stroke="#000" stroke-width="1.6" stroke-linecap="butt"/>
<text x="213.775" y="503.0" font-size="15.0" font-weight="normal" text-anchor="middle" stroke="#000" stroke-width="0.3">90</text>
<line x1="265.0" y1="483.0" x2="265.0" y2="487.5" stroke="#000" stroke-width="1.6" stroke-linecap="butt"/>
<text x="267.8" y="503.0" font-size="15.0" font-weight="normal" text-anchor="middle" stroke="#000" stroke-width="0.3">120</text>
<path d="M54.50 369.70L63.27 364.66L72.04 359.21L80.81 353.25L89.58 347.18L98.35 338.75L107.12 334.54L115.90 330.73L124.67 329.50L133.44 328.78L142.21 328.16L150.98 328.27L159.75 328.27L168.52 328.27L177.29 328.27L186.06 328.27L194.83 328.16L203.60 329.09L212.38 330.12L221.15 334.13L229.92 338.14L238.69 343.18L247.46 348.62L256.23 354.59L265.00 361.27" fill="none" stroke="#000" stroke-width="2.2" stroke-linejoin="round" stroke-linecap="round"/>
<path d="M50.90 369.70L54.50 366.10L58.10 369.70L54.50 373.30Z" fill="#fff" stroke="#000" stroke-width="1.5" stroke-linejoin="miter"/>
<path d="M59.67 364.66L63.27 361.06L66.87 364.66L63.27 368.26Z" fill="#fff" stroke="#000" stroke-width="1.5" stroke-linejoin="miter"/>
<path d="M68.44 359.21L72.04 355.61L75.64 359.21L72.04 362.81Z" fill="#fff" stroke="#000" stroke-width="1.5" stroke-linejoin="miter"/>
<path d="M77.21 353.25L80.81 349.65L84.41 353.25L80.81 356.85Z" fill="#fff" stroke="#000" stroke-width="1.5" stroke-linejoin="miter"/>
<path d="M85.98 347.18L89.58 343.58L93.18 347.18L89.58 350.78Z" fill="#fff" stroke="#000" stroke-width="1.5" stroke-linejoin="miter"/>
<path d="M94.75 338.75L98.35 335.15L101.95 338.75L98.35 342.35Z" fill="#fff" stroke="#000" stroke-width="1.5" stroke-linejoin="miter"/>
<path d="M103.53 334.54L107.12 330.94L110.72 334.54L107.12 338.14Z" fill="#fff" stroke="#000" stroke-width="1.5" stroke-linejoin="miter"/>
<path d="M112.30 330.73L115.90 327.13L119.50 330.73L115.90 334.33Z" fill="#fff" stroke="#000" stroke-width="1.5" stroke-linejoin="miter"/>
<path d="M121.07 329.50L124.67 325.90L128.27 329.50L124.67 333.10Z" fill="#fff" stroke="#000" stroke-width="1.5" stroke-linejoin="miter"/>
<path d="M129.84 328.78L133.44 325.18L137.04 328.78L133.44 332.38Z" fill="#fff" stroke="#000" stroke-width="1.5" stroke-linejoin="miter"/>
<path d="M138.61 328.16L142.21 324.56L145.81 328.16L142.21 331.76Z" fill="#fff" stroke="#000" stroke-width="1.5" stroke-linejoin="miter"/>
<path d="M147.38 328.27L150.98 324.67L154.58 328.27L150.98 331.87Z" fill="#fff" stroke="#000" stroke-width="1.5" stroke-linejoin="miter"/>
<path d="M156.15 328.27L159.75 324.67L163.35 328.27L159.75 331.87Z" fill="#fff" stroke="#000" stroke-width="1.5" stroke-linejoin="miter"/>
<path d="M164.92 328.27L168.52 324.67L172.12 328.27L168.52 331.87Z" fill="#fff" stroke="#000" stroke-width="1.5" stroke-linejoin="miter"/>
<path d="M173.69 328.27L177.29 324.67L180.89 328.27L177.29 331.87Z" fill="#fff" stroke="#000" stroke-width="1.5" stroke-linejoin="miter"/>
<path d="M182.46 328.27L186.06 324.67L189.66 328.27L186.06 331.87Z" fill="#fff" stroke="#000" stroke-width="1.5" stroke-linejoin="miter"/>
<path d="M191.23 328.16L194.83 324.56L198.43 328.16L194.83 331.76Z" fill="#fff" stroke="#000" stroke-width="1.5" stroke-linejoin="miter"/>
<path d="M200.00 329.09L203.60 325.49L207.20 329.09L203.60 332.69Z" fill="#fff" stroke="#000" stroke-width="1.5" stroke-linejoin="miter"/>
<path d="M208.78 330.12L212.38 326.52L215.97 330.12L212.38 333.72Z" fill="#fff" stroke="#000" stroke-width="1.5" stroke-linejoin="miter"/>
<path d="M217.55 334.13L221.15 330.53L224.75 334.13L221.15 337.73Z" fill="#fff" stroke="#000" stroke-width="1.5" stroke-linejoin="miter"/>
<path d="M226.32 338.14L229.92 334.54L233.52 338.14L229.92 341.74Z" fill="#fff" stroke="#000" stroke-width="1.5" stroke-linejoin="miter"/>
<path d="M235.09 343.18L238.69 339.57L242.29 343.18L238.69 346.78Z" fill="#fff" stroke="#000" stroke-width="1.5" stroke-linejoin="miter"/>
<path d="M243.86 348.62L247.46 345.02L251.06 348.62L247.46 352.22Z" fill="#fff" stroke="#000" stroke-width="1.5" stroke-linejoin="miter"/>
<path d="M252.63 354.59L256.23 350.99L259.83 354.59L256.23 358.19Z" fill="#fff" stroke="#000" stroke-width="1.5" stroke-linejoin="miter"/>
<path d="M261.40 361.27L265.00 357.67L268.60 361.27L265.00 364.87Z" fill="#fff" stroke="#000" stroke-width="1.5" stroke-linejoin="miter"/>
<path d="M54.50 378.95L63.27 373.20L72.04 366.62L80.81 359.62L89.58 354.18L98.35 347.18L107.12 343.18L115.90 338.75L124.67 335.16L133.44 333.51L142.21 331.15L150.98 328.47L159.75 328.06L168.52 327.75L177.29 327.55L186.06 327.96L194.83 329.60L203.60 333.20L212.38 335.57L221.15 339.58L229.92 345.03L238.69 349.96L247.46 357.57L256.23 363.74L265.00 372.68" fill="none" stroke="#000" stroke-width="2.2" stroke-linejoin="round" stroke-linecap="round"/>
<path d="M49.80 383.15L54.50 374.75L59.20 383.15Z" fill="#000"/>
<path d="M58.57 377.40L63.27 369.00L67.97 377.40Z" fill="#000"/>
<path d="M67.34 370.82L72.04 362.42L76.74 370.82Z" fill="#000"/>
<path d="M76.11 363.82L80.81 355.43L85.51 363.82Z" fill="#000"/>
<path d="M84.88 358.38L89.58 349.98L94.28 358.38Z" fill="#000"/>
<path d="M93.65 351.38L98.35 342.98L103.05 351.38Z" fill="#000"/>
<path d="M102.42 347.38L107.12 338.98L111.83 347.38Z" fill="#000"/>
<path d="M111.20 342.95L115.90 334.55L120.60 342.95Z" fill="#000"/>
<path d="M119.97 339.36L124.67 330.96L129.37 339.36Z" fill="#000"/>
<path d="M128.74 337.71L133.44 329.31L138.14 337.71Z" fill="#000"/>
<path d="M137.51 335.35L142.21 326.95L146.91 335.35Z" fill="#000"/>
<path d="M146.28 332.67L150.98 324.27L155.68 332.67Z" fill="#000"/>
<path d="M155.05 332.26L159.75 323.86L164.45 332.26Z" fill="#000"/>
<path d="M163.82 331.95L168.52 323.55L173.22 331.95Z" fill="#000"/>
<path d="M172.59 331.75L177.29 323.35L181.99 331.75Z" fill="#000"/>
<path d="M181.36 332.16L186.06 323.76L190.76 332.16Z" fill="#000"/>
<path d="M190.13 333.80L194.83 325.40L199.53 333.80Z" fill="#000"/>
<path d="M198.90 337.40L203.60 329.00L208.30 337.40Z" fill="#000"/>
<path d="M207.68 339.77L212.38 331.37L217.07 339.77Z" fill="#000"/>
<path d="M216.45 343.78L221.15 335.38L225.85 343.78Z" fill="#000"/>
<path d="M225.22 349.23L229.92 340.83L234.62 349.23Z" fill="#000"/>
<path d="M233.99 354.16L238.69 345.76L243.39 354.16Z" fill="#000"/>
<path d="M242.76 361.77L247.46 353.37L252.16 361.77Z" fill="#000"/>
<path d="M251.53 367.94L256.23 359.54L260.93 367.94Z" fill="#000"/>
<path d="M260.30 376.88L265.00 368.48L269.70 376.88Z" fill="#000"/>
<text x="259.8" y="324.2" font-size="18" font-weight="bold" text-anchor="middle" stroke="#000" stroke-width="0.25">B</text>
<text x="171.4" y="523.7" font-size="14.7" font-weight="bold" text-anchor="middle" stroke="#000" stroke-width="0.25">Shelf width [cm]</text>
<text x="10.6" y="404" font-size="14.7" font-weight="bold" text-anchor="middle" transform="rotate(-90 10.6 404)" stroke="#000" stroke-width="0.25">Light intensity [µmol.s]</text>
<line x1="304.6" y1="317.5" x2="304.6" y2="488.0" stroke="#000" stroke-width="2.3" stroke-linecap="butt"/>
<line x1="303.6" y1="487.0" x2="521" y2="487.0" stroke="#000" stroke-width="2.3" stroke-linecap="butt"/>
<line x1="299.1" y1="487.0" x2="304.6" y2="487.0" stroke="#000" stroke-width="1.6" stroke-linecap="butt"/>
<text x="295.6" y="492.1" font-size="15.0" font-weight="normal" text-anchor="end" stroke="#000" stroke-width="0.3">0</text>
<line x1="299.1" y1="444.875" x2="304.6" y2="444.875" stroke="#000" stroke-width="1.6" stroke-linecap="butt"/>
<text x="296.40000000000003" y="449.975" font-size="15.0" font-weight="normal" text-anchor="end" stroke="#000" stroke-width="0.3">40</text>
<line x1="299.1" y1="402.75" x2="304.6" y2="402.75" stroke="#000" stroke-width="1.6" stroke-linecap="butt"/>
<text x="296.40000000000003" y="407.85" font-size="15.0" font-weight="normal" text-anchor="end" stroke="#000" stroke-width="0.3">80</text>
<line x1="299.1" y1="360.625" x2="304.6" y2="360.625" stroke="#000" stroke-width="1.6" stroke-linecap="butt"/>
<text x="297.20000000000005" y="365.725" font-size="15.0" font-weight="normal" text-anchor="end" stroke="#000" stroke-width="0.3">120</text>
<line x1="299.1" y1="318.5" x2="304.6" y2="318.5" stroke="#000" stroke-width="1.6" stroke-linecap="butt"/>
<text x="297.20000000000005" y="323.6" font-size="15.0" font-weight="normal" text-anchor="end" stroke="#000" stroke-width="0.3">160</text>
<line x1="304.6" y1="487.0" x2="304.6" y2="491.5" stroke="#000" stroke-width="1.6" stroke-linecap="butt"/>
<text x="305.0" y="507.0" font-size="15.0" font-weight="normal" text-anchor="middle" stroke="#000" stroke-width="0.3">0</text>
<line x1="358.45000000000005" y1="487.0" x2="358.45000000000005" y2="491.5" stroke="#000" stroke-width="1.6" stroke-linecap="butt"/>
<text x="359.55000000000007" y="507.0" font-size="15.0" font-weight="normal" text-anchor="middle" stroke="#000" stroke-width="0.3">20</text>
<line x1="412.3" y1="487.0" x2="412.3" y2="491.5" stroke="#000" stroke-width="1.6" stroke-linecap="butt"/>
<text x="413.40000000000003" y="507.0" font-size="15.0" font-weight="normal" text-anchor="middle" stroke="#000" stroke-width="0.3">40</text>
<line x1="466.15" y1="487.0" x2="466.15" y2="491.5" stroke="#000" stroke-width="1.6" stroke-linecap="butt"/>
<text x="467.25" y="507.0" font-size="15.0" font-weight="normal" text-anchor="middle" stroke="#000" stroke-width="0.3">60</text>
<line x1="520.0" y1="487.0" x2="520.0" y2="491.5" stroke="#000" stroke-width="1.6" stroke-linecap="butt"/>
<text x="521.1" y="507.0" font-size="15.0" font-weight="normal" text-anchor="middle" stroke="#000" stroke-width="0.3">80</text>
<path d="M309.99 377.48L315.37 373.26L320.75 368.00L326.14 363.78L331.53 361.68L336.91 358.52L342.30 356.41L347.68 352.20L353.06 350.09L358.45 347.99L363.84 343.77L369.22 341.67L374.61 339.56L379.99 338.51L385.38 336.40L390.76 333.24L396.15 330.61L401.53 329.56L406.92 329.03L412.30 328.50L417.69 328.50L423.07 328.50L428.46 328.50L433.84 328.50L439.23 328.50L444.61 328.50L450.00 328.50L455.38 328.50L460.76 328.50L466.15 329.03L471.54 330.40L476.92 331.35L482.31 332.93L487.69 333.88L493.08 335.88L498.46 336.40L503.85 339.35L509.23 339.56" fill="none" stroke="#000" stroke-width="2.2" stroke-linejoin="round" stroke-linecap="round"/>
<path d="M306.38 377.48L309.99 373.88L313.59 377.48L309.99 381.08Z" fill="#fff" stroke="#000" stroke-width="1.5" stroke-linejoin="miter"/>
<path d="M311.77 373.26L315.37 369.66L318.97 373.26L315.37 376.86Z" fill="#fff" stroke="#000" stroke-width="1.5" stroke-linejoin="miter"/>
<path d="M317.15 368.00L320.75 364.40L324.36 368.00L320.75 371.60Z" fill="#fff" stroke="#000" stroke-width="1.5" stroke-linejoin="miter"/>
<path d="M322.54 363.78L326.14 360.18L329.74 363.78L326.14 367.38Z" fill="#fff" stroke="#000" stroke-width="1.5" stroke-linejoin="miter"/>
<path d="M327.93 361.68L331.53 358.08L335.13 361.68L331.53 365.28Z" fill="#fff" stroke="#000" stroke-width="1.5" stroke-linejoin="miter"/>
<path d="M333.31 358.52L336.91 354.92L340.51 358.52L336.91 362.12Z" fill="#fff" stroke="#000" stroke-width="1.5" stroke-linejoin="miter"/>
<path d="M338.69 356.41L342.30 352.81L345.90 356.41L342.30 360.01Z" fill="#fff" stroke="#000" stroke-width="1.5" stroke-linejoin="miter"/>
<path d="M344.08 352.20L347.68 348.60L351.28 352.20L347.68 355.80Z" fill="#fff" stroke="#000" stroke-width="1.5" stroke-linejoin="miter"/>
<path d="M349.46 350.09L353.06 346.49L356.67 350.09L353.06 353.69Z" fill="#fff" stroke="#000" stroke-width="1.5" stroke-linejoin="miter"/>
<path d="M354.85 347.99L358.45 344.39L362.05 347.99L358.45 351.59Z" fill="#fff" stroke="#000" stroke-width="1.5" stroke-linejoin="miter"/>
<path d="M360.24 343.77L363.84 340.17L367.44 343.77L363.84 347.38Z" fill="#fff" stroke="#000" stroke-width="1.5" stroke-linejoin="miter"/>
<path d="M365.62 341.67L369.22 338.07L372.82 341.67L369.22 345.27Z" fill="#fff" stroke="#000" stroke-width="1.5" stroke-linejoin="miter"/>
<path d="M371.00 339.56L374.61 335.96L378.21 339.56L374.61 343.16Z" fill="#fff" stroke="#000" stroke-width="1.5" stroke-linejoin="miter"/>
<path d="M376.39 338.51L379.99 334.91L383.59 338.51L379.99 342.11Z" fill="#fff" stroke="#000" stroke-width="1.5" stroke-linejoin="miter"/>
<path d="M381.77 336.40L385.38 332.80L388.98 336.40L385.38 340.00Z" fill="#fff" stroke="#000" stroke-width="1.5" stroke-linejoin="miter"/>
<path d="M387.16 333.24L390.76 329.64L394.36 333.24L390.76 336.84Z" fill="#fff" stroke="#000" stroke-width="1.5" stroke-linejoin="miter"/>
<path d="M392.55 330.61L396.15 327.01L399.75 330.61L396.15 334.21Z" fill="#fff" stroke="#000" stroke-width="1.5" stroke-linejoin="miter"/>
<path d="M397.93 329.56L401.53 325.96L405.13 329.56L401.53 333.16Z" fill="#fff" stroke="#000" stroke-width="1.5" stroke-linejoin="miter"/>
<path d="M403.31 329.03L406.92 325.43L410.52 329.03L406.92 332.63Z" fill="#fff" stroke="#000" stroke-width="1.5" stroke-linejoin="miter"/>
<path d="M408.70 328.50L412.30 324.90L415.90 328.50L412.30 332.10Z" fill="#fff" stroke="#000" stroke-width="1.5" stroke-linejoin="miter"/>
<path d="M414.08 328.50L417.69 324.90L421.29 328.50L417.69 332.10Z" fill="#fff" stroke="#000" stroke-width="1.5" stroke-linejoin="miter"/>
<path d="M419.47 328.50L423.07 324.90L426.67 328.50L423.07 332.10Z" fill="#fff" stroke="#000" stroke-width="1.5" stroke-linejoin="miter"/>
<path d="M424.86 328.50L428.46 324.90L432.06 328.50L428.46 332.10Z" fill="#fff" stroke="#000" stroke-width="1.5" stroke-linejoin="miter"/>
<path d="M430.24 328.50L433.84 324.90L437.44 328.50L433.84 332.10Z" fill="#fff" stroke="#000" stroke-width="1.5" stroke-linejoin="miter"/>
<path d="M435.62 328.50L439.23 324.90L442.83 328.50L439.23 332.10Z" fill="#fff" stroke="#000" stroke-width="1.5" stroke-linejoin="miter"/>
<path d="M441.01 328.50L444.61 324.90L448.21 328.50L444.61 332.10Z" fill="#fff" stroke="#000" stroke-width="1.5" stroke-linejoin="miter"/>
<path d="M446.39 328.50L450.00 324.90L453.60 328.50L450.00 332.10Z" fill="#fff" stroke="#000" stroke-width="1.5" stroke-linejoin="miter"/>
<path d="M451.78 328.50L455.38 324.90L458.98 328.50L455.38 332.10Z" fill="#fff" stroke="#000" stroke-width="1.5" stroke-linejoin="miter"/>
<path d="M457.16 328.50L460.76 324.90L464.37 328.50L460.76 332.10Z" fill="#fff" stroke="#000" stroke-width="1.5" stroke-linejoin="miter"/>
<path d="M462.55 329.03L466.15 325.43L469.75 329.03L466.15 332.63Z" fill="#fff" stroke="#000" stroke-width="1.5" stroke-linejoin="miter"/>
<path d="M467.94 330.40L471.54 326.80L475.14 330.40L471.54 334.00Z" fill="#fff" stroke="#000" stroke-width="1.5" stroke-linejoin="miter"/>
<path d="M473.32 331.35L476.92 327.75L480.52 331.35L476.92 334.95Z" fill="#fff" stroke="#000" stroke-width="1.5" stroke-linejoin="miter"/>
<path d="M478.70 332.93L482.31 329.33L485.91 332.93L482.31 336.53Z" fill="#fff" stroke="#000" stroke-width="1.5" stroke-linejoin="miter"/>
<path d="M484.09 333.88L487.69 330.28L491.29 333.88L487.69 337.48Z" fill="#fff" stroke="#000" stroke-width="1.5" stroke-linejoin="miter"/>
<path d="M489.48 335.88L493.08 332.28L496.68 335.88L493.08 339.48Z" fill="#fff" stroke="#000" stroke-width="1.5" stroke-linejoin="miter"/>
<path d="M494.86 336.40L498.46 332.80L502.06 336.40L498.46 340.00Z" fill="#fff" stroke="#000" stroke-width="1.5" stroke-linejoin="miter"/>
<path d="M500.25 339.35L503.85 335.75L507.45 339.35L503.85 342.95Z" fill="#fff" stroke="#000" stroke-width="1.5" stroke-linejoin="miter"/>
<path d="M505.63 339.56L509.23 335.96L512.83 339.56L509.23 343.16Z" fill="#fff" stroke="#000" stroke-width="1.5" stroke-linejoin="miter"/>
<path d="M309.99 380.63L315.37 372.21L320.75 368.00L326.14 365.89L331.53 362.73L336.91 359.57L342.30 359.57L347.68 351.15L353.06 350.51L358.45 349.04L363.84 342.09L369.22 340.62L374.61 340.62L379.99 341.04L385.38 337.98L390.76 333.66L396.15 330.61L401.53 336.93L406.92 333.24L412.30 332.19L417.69 331.66L423.07 333.24L428.46 331.66L433.84 331.66L439.23 333.24L444.61 332.19L450.00 332.19L455.38 333.24L460.76 335.35L466.15 337.67L471.54 339.98L476.92 342.30L482.31 346.62L487.69 347.04L493.08 345.99L498.46 345.99L503.85 346.41L509.23 353.99" fill="none" stroke="#000" stroke-width="2.2" stroke-linejoin="round" stroke-linecap="round"/>
<path d="M305.29 384.83L309.99 376.43L314.69 384.83Z" fill="#000"/>
<path d="M310.67 376.41L315.37 368.01L320.07 376.41Z" fill="#000"/>
<path d="M316.06 372.20L320.75 363.80L325.45 372.20Z" fill="#000"/>
<path d="M321.44 370.09L326.14 361.69L330.84 370.09Z" fill="#000"/>
<path d="M326.83 366.93L331.53 358.53L336.23 366.93Z" fill="#000"/>
<path d="M332.21 363.77L336.91 355.37L341.61 363.77Z" fill="#000"/>
<path d="M337.60 363.77L342.30 355.37L347.00 363.77Z" fill="#000"/>
<path d="M342.98 355.35L347.68 346.95L352.38 355.35Z" fill="#000"/>
<path d="M348.37 354.71L353.06 346.31L357.76 354.71Z" fill="#000"/>
<path d="M353.75 353.24L358.45 344.84L363.15 353.24Z" fill="#000"/>
<path d="M359.14 346.29L363.84 337.89L368.54 346.29Z" fill="#000"/>
<path d="M364.52 344.82L369.22 336.42L373.92 344.82Z" fill="#000"/>
<path d="M369.91 344.82L374.61 336.42L379.31 344.82Z" fill="#000"/>
<path d="M375.29 345.24L379.99 336.84L384.69 345.24Z" fill="#000"/>
<path d="M380.68 342.18L385.38 333.78L390.07 342.18Z" fill="#000"/>
<path d="M386.06 337.86L390.76 329.46L395.46 337.86Z" fill="#000"/>
<path d="M391.45 334.81L396.15 326.41L400.85 334.81Z" fill="#000"/>
<path d="M396.83 341.13L401.53 332.73L406.23 341.13Z" fill="#000"/>
<path d="M402.22 337.44L406.92 329.04L411.62 337.44Z" fill="#000"/>
<path d="M407.60 336.39L412.30 327.99L417.00 336.39Z" fill="#000"/>
<path d="M412.99 335.86L417.69 327.46L422.38 335.86Z" fill="#000"/>
<path d="M418.37 337.44L423.07 329.04L427.77 337.44Z" fill="#000"/>
<path d="M423.76 335.86L428.46 327.46L433.16 335.86Z" fill="#000"/>
<path d="M429.14 335.86L433.84 327.46L438.54 335.86Z" fill="#000"/>
<path d="M434.53 337.44L439.23 329.04L443.93 337.44Z" fill="#000"/>
<path d="M439.91 336.39L444.61 327.99L449.31 336.39Z" fill="#000"/>
<path d="M445.30 336.39L450.00 327.99L454.69 336.39Z" fill="#000"/>
<path d="M450.68 337.44L455.38 329.04L460.08 337.44Z" fill="#000"/>
<path d="M456.06 339.55L460.76 331.15L465.46 339.55Z" fill="#000"/>
<path d="M461.45 341.87L466.15 333.47L470.85 341.87Z" fill="#000"/>
<path d="M466.84 344.18L471.54 335.78L476.24 344.18Z" fill="#000"/>
<path d="M472.22 346.50L476.92 338.10L481.62 346.50Z" fill="#000"/>
<path d="M477.61 350.82L482.31 342.42L487.00 350.82Z" fill="#000"/>
<path d="M482.99 351.24L487.69 342.84L492.39 351.24Z" fill="#000"/>
<path d="M488.38 350.19L493.08 341.79L497.78 350.19Z" fill="#000"/>
<path d="M493.76 350.19L498.46 341.79L503.16 350.19Z" fill="#000"/>
<path d="M499.15 350.61L503.85 342.21L508.55 350.61Z" fill="#000"/>
<path d="M504.53 358.19L509.23 349.79L513.93 358.19Z" fill="#000"/>
<text x="514" y="324.2" font-size="18" font-weight="bold" text-anchor="middle" stroke="#000" stroke-width="0.25">C</text>
<text x="426" y="523.8" font-size="14.8" font-weight="bold" text-anchor="middle" stroke="#000" stroke-width="0.25">Shelf depth [cm]</text>
<line x1="572.3" y1="317.0" x2="572.3" y2="487.6" stroke="#000" stroke-width="2.3" stroke-linecap="butt"/>
<line x1="571.3" y1="486.6" x2="681" y2="486.6" stroke="#000" stroke-width="2.3" stroke-linecap="butt"/>
<line x1="567.0999999999999" y1="486.6" x2="572.3" y2="486.6" stroke="#000" stroke-width="1.6" stroke-linecap="butt"/>
<text x="558.6999999999999" y="491.70000000000005" font-size="15.0" font-weight="normal" text-anchor="end" stroke="#000" stroke-width="0.3">0</text>
<line x1="567.0999999999999" y1="458.5" x2="572.3" y2="458.5" stroke="#000" stroke-width="1.6" stroke-linecap="butt"/>
<text x="558.6999999999999" y="463.6" font-size="15.0" font-weight="normal" text-anchor="end" stroke="#000" stroke-width="0.3">1</text>
<line x1="567.0999999999999" y1="430.40000000000003" x2="572.3" y2="430.40000000000003" stroke="#000" stroke-width="1.6" stroke-linecap="butt"/>
<text x="558.6999999999999" y="435.50000000000006" font-size="15.0" font-weight="normal" text-anchor="end" stroke="#000" stroke-width="0.3">2</text>
<line x1="567.0999999999999" y1="402.3" x2="572.3" y2="402.3" stroke="#000" stroke-width="1.6" stroke-linecap="butt"/>
<text x="558.6999999999999" y="407.40000000000003" font-size="15.0" font-weight="normal" text-anchor="end" stroke="#000" stroke-width="0.3">3</text>
<line x1="567.0999999999999" y1="374.20000000000005" x2="572.3" y2="374.20000000000005" stroke="#000" stroke-width="1.6" stroke-linecap="butt"/>
<text x="558.6999999999999" y="379.30000000000007" font-size="15.0" font-weight="normal" text-anchor="end" stroke="#000" stroke-width="0.3">4</text>
<line x1="567.0999999999999" y1="346.1" x2="572.3" y2="346.1" stroke="#000" stroke-width="1.6" stroke-linecap="butt"/>
<text x="558.6999999999999" y="351.20000000000005" font-size="15.0" font-weight="normal" text-anchor="end" stroke="#000" stroke-width="0.3">5</text>
<line x1="567.0999999999999" y1="318.0" x2="572.3" y2="318.0" stroke="#000" stroke-width="1.6" stroke-linecap="butt"/>
<text x="558.6999999999999" y="323.1" font-size="15.0" font-weight="normal" text-anchor="end" stroke="#000" stroke-width="0.3">6</text>
<rect x="594.4" y="400.05" width="30.9" height="86.55" fill="#fff" stroke="#000" stroke-width="2.3"/>
<rect x="625.3" y="435.60" width="29.5" height="51.00" fill="#a6a6a6" stroke="#000" stroke-width="2.3"/>
<line x1="610" y1="384.6" x2="610" y2="416.4" stroke="#000" stroke-width="2.0" stroke-linecap="butt"/>
<line x1="606.0" y1="384.6" x2="614.0" y2="384.6" stroke="#000" stroke-width="2.0" stroke-linecap="butt"/>
<line x1="606.0" y1="416.4" x2="614.0" y2="416.4" stroke="#000" stroke-width="2.0" stroke-linecap="butt"/>
<line x1="639.9" y1="428.6" x2="639.9" y2="441.6" stroke="#000" stroke-width="2.0" stroke-linecap="butt"/>
<line x1="636.1999999999999" y1="428.6" x2="643.6" y2="428.6" stroke="#000" stroke-width="2.0" stroke-linecap="butt"/>
<line x1="636.1999999999999" y1="441.6" x2="643.6" y2="441.6" stroke="#000" stroke-width="2.0" stroke-linecap="butt"/>
<text x="640.3" y="426.0" font-size="22.5" font-weight="bold" text-anchor="middle" stroke="#000" stroke-width="0.25">**</text>
<rect x="578.1" y="335.5" width="8.0" height="7.7" rx="0.6" fill="#fff" stroke="#000" stroke-width="2.7"/>
<rect x="578.1" y="364.1" width="7.3" height="6.9" rx="0.6" fill="#9a9a9a" stroke="#000" stroke-width="2.6"/>
<text x="594.6" y="345.2" font-size="17.1" font-weight="normal" text-anchor="start" stroke="#000" stroke-width="0.3">Fluorescent</text>
<text x="594.6" y="372.6" font-size="17.1" font-weight="normal" text-anchor="start" stroke="#000" stroke-width="0.3">LED</text>
<text x="660" y="325.2" font-size="18" font-weight="bold" text-anchor="middle" stroke="#000" stroke-width="0.25">D</text>
<text x="542.9" y="402.8" font-size="14.6" font-weight="bold" text-anchor="middle" transform="rotate(-90 542.9 402.8)" stroke="#000" stroke-width="0.25">V [l]</text>
<text x="618.3" y="524" font-size="14.7" font-weight="bold" text-anchor="middle" font-style="italic" stroke="#000" stroke-width="0.25">A.thaliana</text>
</svg>
</body>
</html>
